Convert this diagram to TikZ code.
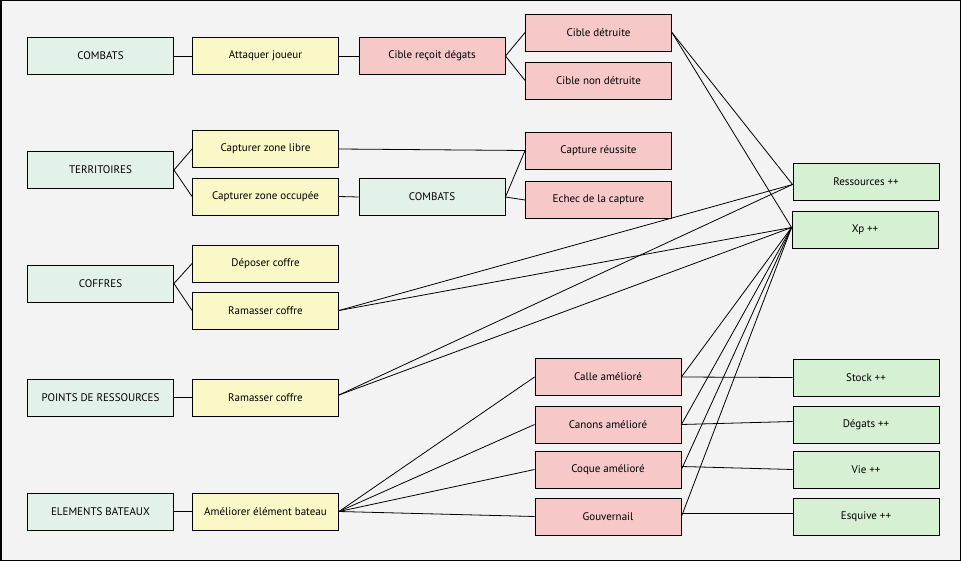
\documentclass[tikz,border=0pt]{standalone}
\usepackage{fontspec}
\setmainfont{PT Sans}
\pgfdeclarelayer{bg}
\pgfdeclarelayer{edges}
\pgfsetlayers{bg,edges,main}
\definecolor{bgc}{RGB}{243,243,243}
\definecolor{mint}{RGB}{226,242,233}
\definecolor{yel}{RGB}{249,248,198}
\definecolor{pnk}{RGB}{246,200,200}
\definecolor{grn}{RGB}{213,240,210}
\tikzset{
  box/.style={draw=black, line width=0.9pt, minimum width=146pt, minimum height=37pt, inner sep=0pt, font=\fontsize{11}{13}\selectfont, text=black},
  catbox/.style={box, fill=mint},
  actbox/.style={box, fill=yel},
  resbox/.style={box, fill=pnk},
  gainbox/.style={box, fill=grn},
  link/.style={draw=black, line width=0.8pt}
}
\begin{document}
\begin{tikzpicture}[x=1pt,y=-1pt]
\begin{pgfonlayer}{bg}
\fill[bgc] (0,0) rectangle (961,561);
\draw[black, line width=1.5pt] (0.75,0.75) rectangle (960.25,560.25);
\end{pgfonlayer}
\useasboundingbox (0,0) rectangle (961,561);

% column 1
\node[catbox] (combats) at (100.5,56) {COMBATS};
\node[catbox] (terr) at (100.5,170) {TERRITOIRES};
\node[catbox] (coffres) at (100.5,283.5) {COFFRES};
\node[catbox] (points) at (100.5,397.5) {POINTS DE RESSOURCES};
\node[catbox] (elem) at (100.5,511.5) {ELEMENTS BATEAUX};

% column 2
\node[actbox] (attaq) at (265.5,56) {Attaquer joueur};
\node[actbox] (libre) at (265.5,149) {Capturer zone libre};
\node[actbox] (occup) at (265.5,196.5) {Capturer zone occupée};
\node[actbox] (depos) at (265.5,263.5) {Déposer coffre};
\node[actbox] (ramA) at (265.5,310.5) {Ramasser coffre};
\node[actbox] (ramB) at (265.5,397.5) {Ramasser coffre};
\node[actbox] (amel) at (265.5,511.5) {Améliorer élément bateau};

% column 3
\node[resbox] (recoit) at (432,56) {Cible reçoit dégats};
\node[catbox] (combatsB) at (432,197) {COMBATS};

% column 4
\node[resbox] (detr) at (598.5,32.5) {Cible détruite};
\node[resbox] (nondetr) at (598.5,80.5) {Cible non détruite};
\node[resbox] (reuss) at (598.5,150.5) {Capture réussite};
\node[resbox] (echec) at (598.5,200) {Echec de la capture};
\node[resbox] (calle) at (608,377) {Calle amélioré};
\node[resbox] (canons) at (608,424.5) {Canons amélioré};
\node[resbox] (coque) at (608,469.5) {Coque amélioré};
\node[resbox] (gouv) at (608,516.5) {Gouvernail};

% column 5
\node[gainbox] (ress) at (866,181.5) {Ressources ++};
\node[gainbox] (xp) at (865,229.5) {Xp ++};
\node[gainbox] (stock) at (866,377.5) {Stock ++};
\node[gainbox] (degats) at (866,424.5) {Dégats ++};
\node[gainbox] (vie) at (866,469.5) {Vie ++};
\node[gainbox] (esq) at (866,516.5) {Esquive ++};

\begin{pgfonlayer}{edges}
\draw[link] (combats.east) -- (attaq.west);
\draw[link] (attaq.east) -- (recoit.west);
\draw[link] (recoit.east) -- (detr.west);
\draw[link] (recoit.east) -- (nondetr.west);
\draw[link] (terr.east) -- (libre.west);
\draw[link] (terr.east) -- (occup.west);
\draw[link] (libre.east) -- (reuss.west);
\draw[link] (occup.east) -- (combatsB.west);
\draw[link] (combatsB.east) -- (reuss.west);
\draw[link] (combatsB.east) -- (echec.west);
\draw[link] (coffres.east) -- (depos.west);
\draw[link] (coffres.east) -- (ramA.west);
\draw[link] (points.east) -- (ramB.west);
\draw[link] (elem.east) -- (amel.west);
\draw[link] (amel.east) -- (calle.west);
\draw[link] (amel.east) -- (canons.west);
\draw[link] (amel.east) -- (coque.west);
\draw[link] (amel.east) -- (gouv.west);
\coordinate (ressin) at ([yshift=-3pt]ress.west);
\coordinate (xpin) at ([yshift=2pt]xp.west);
\draw[link] (detr.east) -- (ressin);
\draw[link] (detr.east) -- (xpin);
\draw[link] (ramA.east) -- (ressin);
\draw[link] (ramA.east) -- (xpin);
\draw[link] ([yshift=2.5pt]ramB.east) -- (ressin);
\draw[link] ([yshift=2.5pt]ramB.east) -- (xpin);
\draw[link] (calle.east) -- (xpin);
\draw[link] (canons.east) -- (xpin);
\draw[link] (coque.east) -- (xpin);
\draw[link] (gouv.east) -- (xpin);
\draw[link] (calle.east) -- (stock.west);
\draw[link] (canons.east) -- ([yshift=3pt]degats.west);
\draw[link] ([yshift=3pt]coque.east) -- (vie.west);
\draw[link] ([yshift=3pt]gouv.east) -- ([yshift=3pt]esq.west);
\end{pgfonlayer}
\end{tikzpicture}
\end{document}
